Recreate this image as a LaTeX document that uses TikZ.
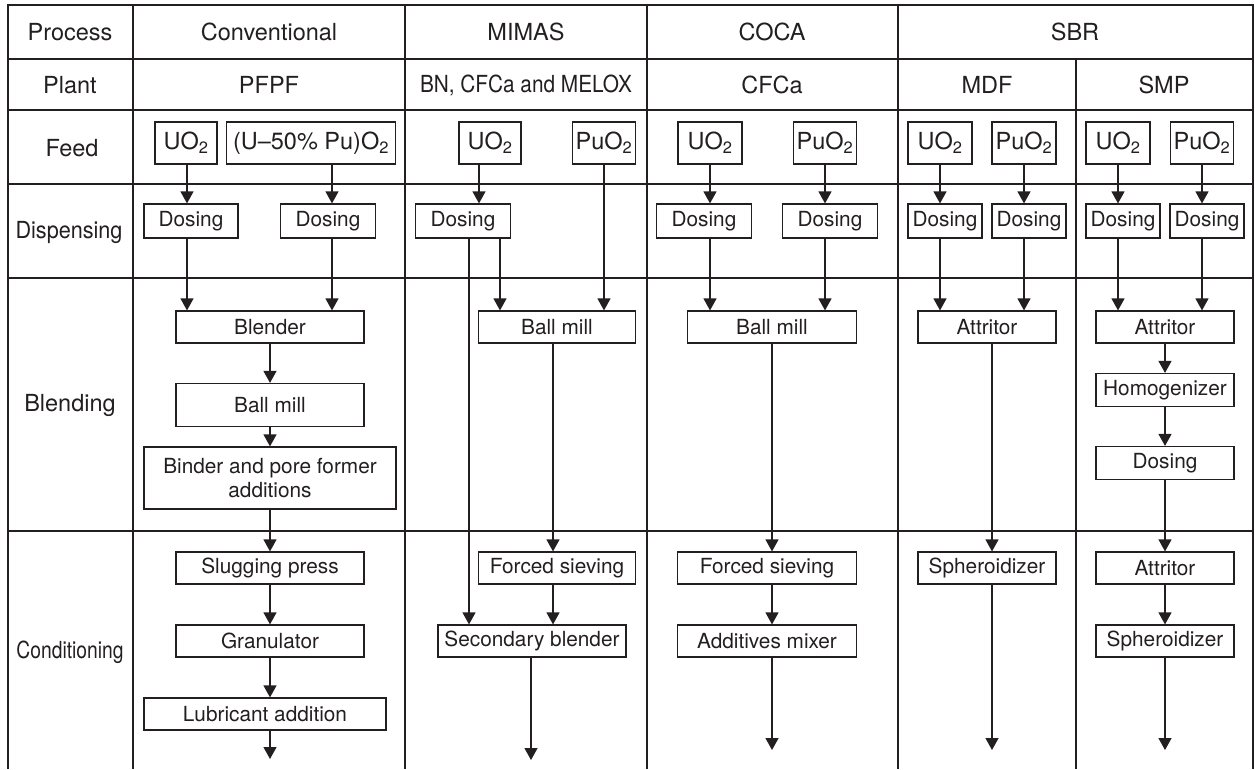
\documentclass[tikz,border=0pt]{standalone}
\usepackage{fontspec}
\setmainfont{TeX Gyre Heros}
\usepackage{graphicx}
\usetikzlibrary{arrows.meta}
\definecolor{ink}{HTML}{231F20}
\tikzset{
  every node/.style={text=ink},
  rule/.style={draw=ink, line width=1.2pt},
  head/.style={font=\fontsize{23.5}{26}\selectfont, inner sep=0pt},
  box/.style={draw=ink, fill=white, line width=1.2pt, inner sep=0pt,
    align=center, minimum height=32pt,
    font=\fontsize{20.8}{24}\selectfont},
  feedbox/.style={box, minimum height=42pt,
    font=\fontsize{23.5}{26}\selectfont},
  dosebox/.style={box, minimum height=34pt},
  flow/.style={-{Triangle[length=12pt,width=13pt]}, draw=ink,
    line width=1.2pt}
}

\begin{document}
\begin{tikzpicture}[x=1pt,y=-1pt]
\useasboundingbox (0,0) rectangle (1255,769);

% Table frame; the bottom is left open, the flows run out of the page.
\draw[rule] (8,769) -- (8,5) -- (1253,5) -- (1253,769);
\foreach \yy in {59,110,184,278,531}
  \draw[rule] (8,\yy) -- (1253,\yy);
\foreach \xx in {133,405,647,898}
  \draw[rule] (\xx,5) -- (\xx,769);
\draw[rule] (1076,59) -- (1076,769);

% Header rows and row labels.
\node[head] (hproc) at (70,32) {Process};
\node[head] (hconv) at (269,32) {Conventional};
\node[head] (hmimas) at (526,32) {MIMAS};
\node[head] (hcoca) at (772,32) {COCA};
\node[head] (hsbr) at (1075,32) {SBR};
\node[head] (pplant) at (70,85) {Plant};
\node[head] (ppfpf) at (269,85) {PFPF};
\node[head] (pmimas) at (526,85) {\scalebox{0.885}[1]{BN, CFCa and MELOX}};
\node[head] (pcoca) at (772,85) {CFCa};
\node[head] (pmdf) at (987,85) {MDF};
\node[head] (psmp) at (1164,85) {SMP};
\node[head] (lfeed) at (72,148) {Feed};
\node[head] (ldisp) at (69,232) {\scalebox{0.92}[1]{Dispensing}};
\node[head] (lblend) at (70,405) {Blending};
\node[head] (lcond) at (70,652) {\scalebox{0.82}[1]{Conditioning}};

% Conventional route (PFPF).
\node[feedbox, minimum width=62pt] (cUO) at (186,143) {UO\textsubscript{2}};
\node[feedbox, minimum width=169pt] (cMix) at (311,143)
  {(U–50\% Pu)O\textsubscript{2}};
\node[dosebox, minimum width=94pt] (cDos1) at (191,221) {Dosing};
\node[dosebox, minimum width=95pt] (cDos2) at (328,221) {Dosing};
\node[box, minimum width=188pt] (cBlend) at (270,327) {Blender};
\node[box, minimum width=188pt, minimum height=43pt] (cBall) at (270,405)
  {Ball mill};
\node[box, minimum width=252pt, minimum height=62pt] (cBind) at (270,478)
  {Binder and pore former\\additions};
\node[box, minimum width=188pt] (cSlug) at (270,568) {Slugging press};
\node[box, minimum width=188pt] (cGran) at (270,641) {Granulator};
\node[box, minimum width=242pt] (cLub) at (265,714) {Lubricant addition};
\coordinate (cEnd) at (270,759);

\draw[flow] ([xshift=1pt]cUO.south) -- ([xshift=1pt]cUO.south |- cDos1.north);
\draw[flow] ([xshift=4pt]cDos2.north |- cMix.south) -- ([xshift=4pt]cDos2.north);
\draw[flow] ([xshift=-4pt]cDos1.south) -- ([xshift=-4pt]cDos1.south |- cBlend.north);
\draw[flow] ([xshift=4pt]cDos2.south) -- ([xshift=4pt]cDos2.south |- cBlend.north);
\draw[flow] (cBlend) -- (cBall);
\draw[flow] (cBall) -- (cBind);
\draw[flow] (cBind) -- (cSlug);
\draw[flow] (cSlug) -- (cGran);
\draw[flow] (cGran.south) -- (cGran.south |- cLub.north);
\draw[flow] (cGran.south |- cLub.south) -- (cEnd);

% MIMAS: only part of the UO2 goes to the master blend.
\node[feedbox, minimum width=62pt] (mUO) at (490,143) {UO\textsubscript{2}};
\node[feedbox, minimum width=63pt] (mPu) at (604,143) {PuO\textsubscript{2}};
\node[dosebox, minimum width=95pt] (mDos) at (463,221) {Dosing};
\node[box, minimum width=157pt] (mBall) at (557,327) {Ball mill};
\node[box, minimum width=157pt] (mSieve) at (557,568) {Forced sieving};
\node[box, minimum width=188pt] (mSec) at (532,641) {Secondary blender};
\coordinate (mEnd) at (531,760);

\draw[flow] ([xshift=-11pt]mUO.south) -- ([xshift=-11pt]mUO.south |- mDos.north);
\draw[flow] ([xshift=37pt]mDos.south) -- ([xshift=37pt]mDos.south |- mBall.north);
\draw[flow] ([xshift=6pt]mDos.south) -- ([xshift=6pt]mDos.south |- mSec.north);
\draw[flow] (mPu.south) -- (mPu.south |- mBall.north);
\draw[flow] ([xshift=-4pt]mBall.south) -- ([xshift=-4pt]mBall.south |- mSieve.north);
\draw[flow] ([xshift=-4pt]mSieve.south) -- ([xshift=-4pt]mSieve.south |- mSec.north);
\draw[flow] (mEnd |- mSec.south) -- (mEnd);

% COCA.
\node[feedbox, minimum width=64pt] (kUO) at (710,143) {UO\textsubscript{2}};
\node[feedbox, minimum width=63pt] (kPu) at (825,143) {PuO\textsubscript{2}};
\node[dosebox, minimum width=95pt] (kDos1) at (704,221) {Dosing};
\node[dosebox, minimum width=95pt] (kDos2) at (830,221) {Dosing};
\node[box, minimum width=169pt] (kBall) at (772,327) {Ball mill};
\node[box, minimum width=179pt] (kSieve) at (767,568) {Forced sieving};
\node[box, minimum width=179pt] (kMix) at (767,641) {Additives mixer};
\coordinate (kEnd) at (772,750);

\draw[flow] (kUO.south) -- (kUO.south |- kDos1.north);
\draw[flow] (kPu.south) -- (kPu.south |- kDos2.north);
\draw[flow] (kUO.south |- kDos1.south) -- (kUO.south |- kBall.north);
\draw[flow] (kPu.south |- kDos2.south) -- (kPu.south |- kBall.north);
\draw[flow] (kBall.south) -- (kBall.south |- kSieve.north);
\draw[flow] (kEnd |- kSieve.south) -- (kEnd |- kMix.north);
\draw[flow] (kEnd |- kMix.south) -- (kEnd);

% SBR at MDF.
\node[feedbox, minimum width=64pt] (dUO) at (940,143) {UO\textsubscript{2}};
\node[feedbox, minimum width=64pt] (dPu) at (1024,143) {PuO\textsubscript{2}};
\node[dosebox, minimum width=74pt] (dDos1) at (945,221) {Dosing};
\node[dosebox, minimum width=74pt] (dDos2) at (1029,221) {Dosing};
\node[box, minimum width=138pt] (dAtt) at (987,327) {Attritor};
\node[box, minimum width=138pt] (dSph) at (987,568) {Spheroidizer};
\coordinate (dEnd) at (992,750);

\draw[flow] (dUO.south) -- (dUO.south |- dDos1.north);
\draw[flow] (dPu.south) -- (dPu.south |- dDos2.north);
\draw[flow] (dUO.south |- dDos1.south) -- (dUO.south |- dAtt.north);
\draw[flow] (dPu.south |- dDos2.south) -- (dPu.south |- dAtt.north);
\draw[flow] (dEnd |- dAtt.south) -- (dEnd |- dSph.north);
\draw[flow] (dEnd |- dSph.south) -- (dEnd);

% SBR at SMP.
\node[feedbox, minimum width=64pt] (sUO) at (1118,143) {UO\textsubscript{2}};
\node[feedbox, minimum width=63pt] (sPu) at (1202,143) {PuO\textsubscript{2}};
\node[dosebox, minimum width=74pt] (sDos1) at (1123,221) {Dosing};
\node[dosebox, minimum width=74pt] (sDos2) at (1207,221) {Dosing};
\node[box, minimum width=138pt] (sAtt) at (1165,327) {Attritor};
\node[box, minimum width=138pt, minimum height=33pt] (sHom) at (1165,390)
  {Homogenizer};
\node[box, minimum width=138pt, minimum height=33pt] (sDos) at (1165,463)
  {Dosing};
\node[box, minimum width=138pt] (sAtt2) at (1165,568) {Attritor};
\node[box, minimum width=138pt] (sSph) at (1165,641) {Spheroidizer};
\coordinate (sEnd) at (1165,750);

\draw[flow] (sUO.south) -- (sUO.south |- sDos1.north);
\draw[flow] (sPu.south) -- (sPu.south |- sDos2.north);
\draw[flow] (sUO.south |- sDos1.south) -- (sUO.south |- sAtt.north);
\draw[flow] (sPu.south |- sDos2.south) -- (sPu.south |- sAtt.north);
\draw[flow] (sAtt) -- (sHom);
\draw[flow] (sHom) -- (sDos);
\draw[flow] (sDos) -- (sAtt2);
\draw[flow] (sAtt2) -- (sSph);
\draw[flow] (sSph.south) -- (sEnd);

\end{tikzpicture}
\end{document}
